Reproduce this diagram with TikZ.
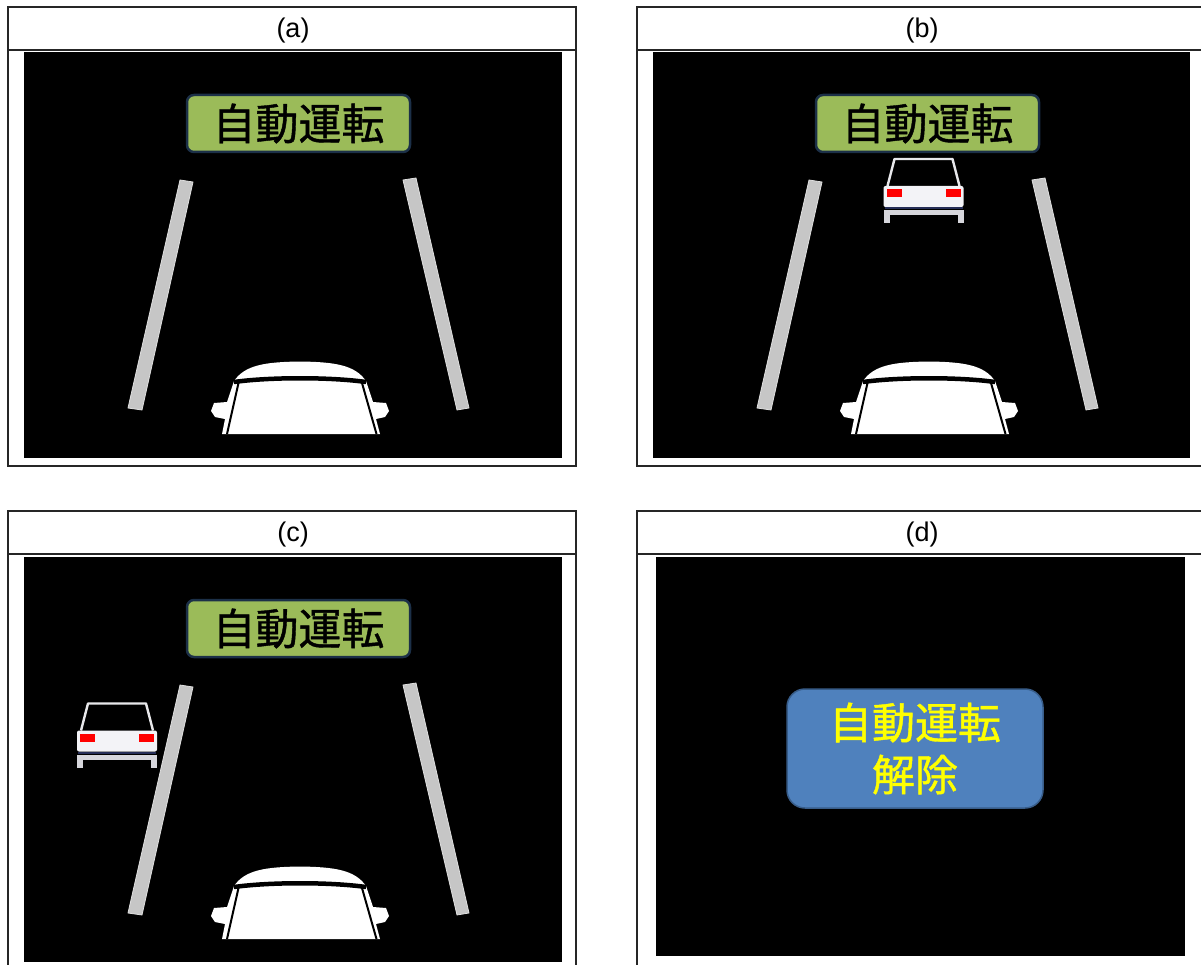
\documentclass[tikz,border=0pt]{standalone}
\usepackage{fontspec}
\setmainfont{Liberation Sans}
\newfontfamily\jpfont{Noto Sans CJK JP}[FakeBold=1]
\usepackage{xcolor}
\usepackage{tikz}

\definecolor{signgreen}{RGB}{155,187,89}
\definecolor{signedge}{RGB}{28,48,72}
\definecolor{dispblue}{RGB}{79,129,189}
\definecolor{dispedge}{RGB}{56,93,138}
\definecolor{lanegray}{RGB}{198,198,198}
\definecolor{carwhite}{RGB}{243,243,247}
\definecolor{cargray}{RGB}{214,214,220}
\definecolor{bumpernavy}{RGB}{38,46,88}

\tikzset{
  frame/.style={draw=black!85, line width=1.4pt},
  heading/.style={font=\fontsize{27}{27}\selectfont, inner sep=0pt},
  lane/.style={fill=lanegray, draw=gray!25, line width=0.8pt},
  signbox/.style={rectangle, rounded corners=7pt, fill=signgreen, draw=signedge,
    line width=2.5pt, minimum width=223pt, minimum height=57pt, inner sep=0pt,
    font=\jpfont\fontsize{43}{43}\selectfont},
  cancelbox/.style={rectangle, rounded corners=18pt, fill=dispblue, draw=dispedge,
    line width=1.5pt, minimum width=256pt, minimum height=119pt, inner sep=0pt,
    align=center, text={rgb,255:red,255;green,255;blue,0},
    font=\jpfont\fontsize{43}{52}\selectfont}
}

% lane markings, own car and the status sign
\newcommand{\drivescene}[1]{%
  \draw[lane] (180,180) -- (193,182) -- (142,410) -- (128,408) -- cycle;
  \draw[lane] (403,180) -- (416,178) -- (469,408) -- (457,410) -- cycle;
  \fill[white] (222,434) -- (225,419) -- (215,417) -- (211,411) -- (214,403) -- (227,402)
    -- (234,381) .. controls (245,365) and (265,362) .. (300,361.5)
    .. controls (335,362) and (355,365) .. (366,381)
    -- (373,402) -- (386,403) -- (389,411) -- (385,417) -- (376,419) -- (380,434) -- cycle;
  \draw[black, line width=4.5pt] (234,382) .. controls (270,377) and (330,377) .. (366,382);
  \draw[black, line width=2pt] (238.5,383) -- (227,434);
  \draw[black, line width=2pt] (362,383) -- (376.5,434);
  \node[signbox] (sign#1) at (298.5,123.5) {自動運転};
}

% car ahead, seen from behind
\newcommand{\leadcar}[2]{%
  \begin{scope}[shift={(#1,#2)}]
    \draw[carwhite!90!gray, line width=2.4pt, line join=round] (-36,28) -- (-29,1) -- (29,1) -- (36,28);
    \fill[carwhite, rounded corners=2pt] (-40,28) rectangle (40,49);
    \fill[red] (-37,31) rectangle (-22,39);
    \fill[red] (22,31) rectangle (37,39);
    \fill[bumpernavy] (-39,49) rectangle (39,51);
    \fill[cargray] (-37,52) rectangle (37,57);
    \fill[cargray] (-40,52) rectangle (-34,65);
    \fill[cargray] (34,52) rectangle (40,65);
  \end{scope}
}

\begin{document}
\begin{tikzpicture}[x=1pt, y=-1pt]
  \useasboundingbox (0,0) rectangle (1201,965);
  \clip (0,0) rectangle (1201,965);

  % screens
  \fill[black] (24,52) rectangle (562,458);
  \fill[black] (653,52) rectangle (1190,458);
  \fill[black] (24,557) rectangle (562,962);
  \fill[black] (656,557) rectangle (1185,956);

  % frames and headings
  \foreach \px/\py/\lab in {0/0/a, 629/0/b, 0/504/c, 629/504/d} {
    \begin{scope}[shift={(\px,\py)}]
      \draw[frame] (8,7) rectangle (576,466);
      \draw[frame] (8,50) -- (576,50);
      \node[heading] (head\lab) at (293,31) {(\lab)};
    \end{scope}
  }

  % (a)
  \drivescene{a}

  % (b)
  \begin{scope}[shift={(629,0)}]
    \drivescene{b}
  \end{scope}
  \leadcar{923.5}{158}

  % (c)
  \begin{scope}[shift={(0,505)}]
    \drivescene{c}
  \end{scope}
  \leadcar{117}{702.5}

  % (d)
  \node[cancelbox] (cancel) at (915,748.5) {自動運転\\解除};
\end{tikzpicture}
\end{document}
